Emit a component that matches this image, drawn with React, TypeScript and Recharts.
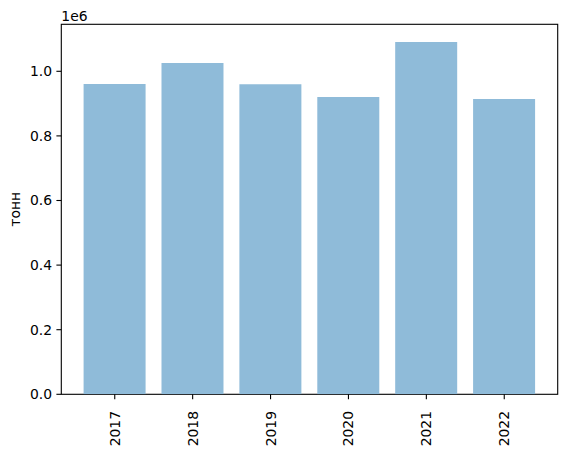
import { Bar, BarChart, XAxis, YAxis } from 'recharts'

const years = ['2017', '2018', '2019', '2020', '2021', '2022']
const tonnes = [960700, 1025700, 960000, 920400, 1090700, 914200]
const yTicks = [0, 200000, 400000, 600000, 800000, 1000000]

const data = years.map((year, i) => ({ year, value: tonnes[i] }))

const FONT = 'DejaVu Sans, sans-serif'
const FS = 13.9
const W = 567
const H = 449
const M = { top: 24.3, right: 9.3, left: 61.3, bottom: 54.7 }

function YearTick(props: any) {
  const { x, y, payload } = props
  return (
    <text
      transform={`translate(${x},${y + 9.8}) rotate(-90)`}
      textAnchor="end"
      dominantBaseline="central"
      fontFamily={FONT}
      fontSize={FS}
      fill="#000"
    >
      {payload.value}
    </text>
  )
}

export default function App() {
  return (
    <div style={{ position: 'fixed', left: 0, top: 0, width: W, height: H, background: '#fff' }}>
      <BarChart
        width={W}
        height={H}
        data={data}
        margin={{ top: M.top, right: M.right, bottom: 0, left: 0 }}
        barCategoryGap="10%"
      >
        <XAxis
          dataKey="year"
          height={M.bottom}
          padding={{ left: 14.5, right: 14.5 }}
          tick={<YearTick />}
          tickSize={4.9}
          tickLine={{ stroke: '#000', strokeWidth: 1.1 }}
          axisLine={false}
          interval={0}
        />
        <YAxis
          width={M.left}
          domain={[0, 1145500]}
          ticks={yTicks}
          tickFormatter={(v: number) => (v / 1e6).toFixed(1)}
          tick={{ fontFamily: FONT, fontSize: FS, fill: '#000', dx: -2.4 }}
          tickSize={4.9}
          tickLine={{ stroke: '#000', strokeWidth: 1.1 }}
          axisLine={false}
          allowDataOverflow
          label={{
            value: 'тонн',
            angle: -90,
            position: 'insideLeft',
            offset: 15,
            style: { fontFamily: FONT, fontSize: FS, fill: '#000', textAnchor: 'middle' },
          }}
        />
        <Bar dataKey="value" fill="#8fbbd9" isAnimationActive={false} />
        <rect
          x={M.left}
          y={M.top}
          width={W - M.left - M.right}
          height={H - M.top - M.bottom}
          fill="none"
          stroke="#000"
          strokeWidth={1.1}
        />
        <text x={M.left} y={21} fontFamily={FONT} fontSize={FS} fill="#000">
          1e6
        </text>
      </BarChart>
    </div>
  )
}
